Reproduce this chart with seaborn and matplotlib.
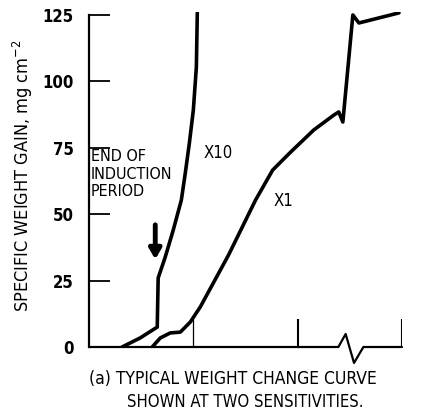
import matplotlib
matplotlib.use("Agg")
import matplotlib.pyplot as plt
import seaborn as sns
import numpy as np

sns.set_style("white")
plt.rcParams['font.family'] = ['DejaVu Sans']
plt.rcParams['font.stretch'] = 'condensed'
plt.rcParams['text.color'] = 'black'
plt.rcParams['axes.labelcolor'] = 'black'

# ---- data (x in arbitrary time units, one unit per bottom tick) ----
x10_time = [0.317, 0.49, 0.654, 0.663, 0.731, 0.808, 0.885, 0.923, 0.962, 1.0, 1.029, 1.038]
x10_gain = [0.0, 3.4, 7.5, 26.0, 33.9, 44.1, 55.3, 65.5, 76.8, 89.2, 105.4, 125.8]

x1_time = [0.606, 0.683, 0.779, 0.875, 0.971, 1.067, 1.337, 1.596, 1.76, 1.933, 2.154, 2.346,
           2.394, 2.433, 2.529, 2.587, 2.971]
x1_gain = [0.0, 3.4, 5.3, 5.6, 9.4, 15.1, 34.6, 55.3, 66.6, 73.4, 81.7, 87.3,
           88.5, 84.7, 125.0, 122.0, 125.8]

y_ticks = [0, 25, 50, 75, 100, 125]
x_ticks = [1, 2, 3]
# axis break zigzag on the time axis
break_x = [0.0, 2.39, 2.46, 2.54, 2.63, 3.0]
break_y = [0.0, 0.0, 4.9, -6.0, 0.0, 0.0]

fig = plt.figure(figsize=(4.22, 4.16), dpi=100)
ax = fig.add_axes([89/422, 1 - 347/416, (402 - 89)/422, (126*2.656)/416])

sns.lineplot(x=x10_time, y=x10_gain, sort=False, estimator=None, color='black', lw=2.6, ax=ax)
sns.lineplot(x=x1_time, y=x1_gain, sort=False, estimator=None, color='black', lw=2.6, ax=ax)

ax.set_xlim(0, 3)
ax.set_ylim(0, 126)

for s in ['top', 'right', 'bottom']:
    ax.spines[s].set_visible(False)
ax.spines['left'].set_bounds(0, 125)
ax.spines['left'].set_linewidth(1.6)
ax.spines['left'].set_color('black')

ax.plot(break_x, break_y, color='black', lw=1.6, clip_on=False)
ax.vlines(x_ticks, 0, 10.5, colors='black', lw=[0.9, 1.5, 1.5])

ax.set_yticks(y_ticks)
ax.set_xticks([])
ax.tick_params(axis='y', direction='in', length=15, width=1.3, pad=11, labelsize=12,
               colors='black', left=True)
for lab in ax.get_yticklabels():
    lab.set_fontweight('bold')

ax.set_ylabel('SPECIFIC WEIGHT GAIN, mg cm$^{-2}$', fontsize=13)
ax.yaxis.set_label_coords((35 - 89) / 313, (347 - 176) / (126 * 2.656))

ax.text(0.015, 74.5, 'END OF\nINDUCTION\nPERIOD', fontsize=11.5, va='top', ha='left',
        linespacing=1.2)
ax.text(1.1, 73, 'X10', fontsize=12, va='center', ha='left')
ax.text(1.77, 55, 'X1', fontsize=12, va='center', ha='left')

ax.annotate('', xy=(0.635, 33), xytext=(0.635, 46),
            arrowprops=dict(arrowstyle='-|>,head_width=0.35,head_length=0.6', lw=3.5,
                            color='black', shrinkA=0, shrinkB=0))

fig.text(233/422, 1 - 379/416, '(a) TYPICAL WEIGHT CHANGE CURVE', ha='center', va='center',
         fontsize=12.5)
fig.text(245/422, 1 - 402/416, 'SHOWN AT TWO SENSITIVITIES.', ha='center', va='center',
         fontsize=12)

fig.savefig('out.png', dpi=100)
